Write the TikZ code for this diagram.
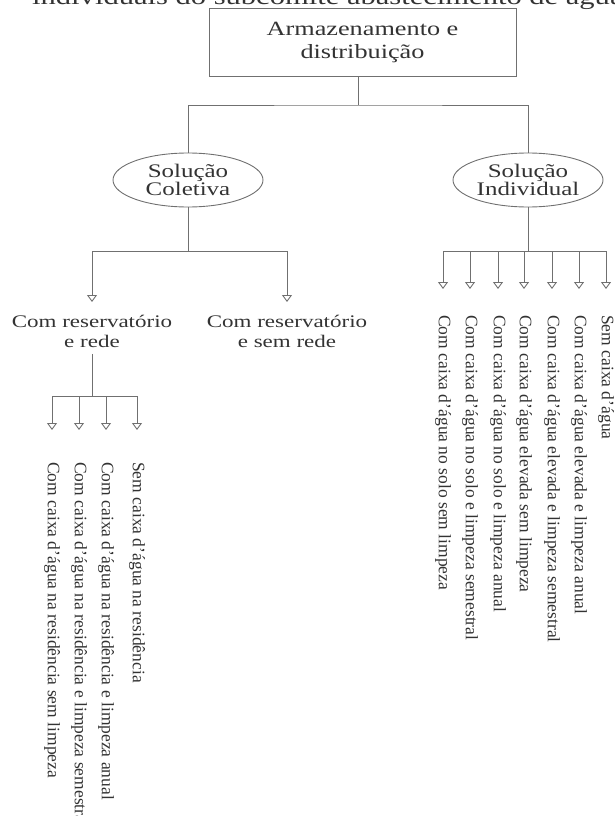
\documentclass[tikz,border=0pt]{standalone}
\usepackage{fontspec}
\setmainfont{Liberation Serif}[FakeStretch=1.3]
\newfontfamily\rotfont{Liberation Serif}
\usetikzlibrary{shapes.geometric}
\usetikzlibrary{arrows.meta}

\definecolor{linegray}{HTML}{707070}
\definecolor{inkgray}{HTML}{333333}

\tikzset{
    conn/.style={draw=linegray, line width=0.9pt},
    arr/.style={conn, -{Triangle[open, width=10pt, length=7pt]}},
    boxnode/.style={draw=linegray, line width=0.9pt, minimum width=307pt, minimum height=68pt, align=center, text=inkgray, font=\fontsize{20.2}{23}\selectfont},
    ellnode/.style={ellipse, draw=linegray, line width=0.9pt, minimum width=150pt, minimum height=54pt, inner sep=0pt, align=center, text=inkgray, font=\fontsize{19.2}{18.5}\selectfont},
    midnode/.style={anchor=north, inner xsep=0pt, inner ysep=13pt, align=center, text=inkgray, font=\fontsize{17.7}{20}\selectfont},
    rotnode/.style={rotate=-90, anchor=west, inner ysep=0pt, text=inkgray, font=\rotfont\fontsize{17.5}{20}\selectfont}
}

\begin{document}
\begin{tikzpicture}[x=1pt, y=-1pt]
    \useasboundingbox (0,0) rectangle (614,816);
    \node[anchor=base west, inner sep=0pt, text=inkgray, font=\fontsize{23.5}{26}\selectfont] (caption) at (32,4.5) {individuais do subcomitê abastecimento de água};
    \node[boxnode] (armaz) at (362.5,42) {Armazenamento e\\distribuição};
    \node[ellnode] (colet) at (188,180) {Solução\\Coletiva};
    \node[ellnode] (indiv) at (528,180) {Solução\\Individual};
    \coordinate (jtop) at (358,105);
    \coordinate (jcol) at (188,251);
    \coordinate (jind) at (528,251);
    \node[midnode] (comrede) at (92,302) {Com reservatório\\e rede};
    \node[midnode] (semrede) at (287,302) {Com reservatório\\e sem rede};
    \coordinate (jrede) at (92,396);
    % coletiva, com rede
    \node[rotnode, inner xsep=16pt] (res4) at (52,446) {Com caixa d’água na residência sem limpeza};
    \node[rotnode, inner xsep=16pt] (res3) at (79,446) {Com caixa d’água na residência e limpeza semestral};
    \node[rotnode, inner xsep=16pt] (res2) at (106,446) {Com caixa d’água na residência e limpeza anual};
    \node[rotnode, inner xsep=16pt] (res1) at (137,446) {Sem caixa d’água na residência};
    % individual
    \node[rotnode, inner xsep=13pt] (ind7) at (443,302) {Com caixa d’água no solo sem limpeza};
    \node[rotnode, inner xsep=13pt] (ind6) at (470,302) {Com caixa d’água no solo e limpeza semestral};
    \node[rotnode, inner xsep=13pt] (ind5) at (498,302) {Com caixa d’água no solo e limpeza anual};
    \node[rotnode, inner xsep=13pt] (ind4) at (524,302) {Com caixa d’água elevada sem limpeza};
    \node[rotnode, inner xsep=13pt] (ind3) at (552,302) {Com caixa d’água elevada e limpeza semestral};
    \node[rotnode, inner xsep=13pt] (ind2) at (579,302) {Com caixa d’água elevada e limpeza anual};
    \node[rotnode, inner xsep=13pt] (ind1) at (606,302) {Sem caixa d’água};

    \draw[conn] (armaz.south -| jtop) -- (jtop);
    \draw[conn] (colet.north) |- (jtop) -| (indiv.north);
    \draw[conn] (colet.south) -- (jcol);
    \draw[conn] (indiv.south) -- (jind);
    \draw[conn] (comrede.north |- jcol) -- (semrede.north |- jcol);
    \draw[arr] (comrede.north |- jcol) -- (comrede.north);
    \draw[arr] (semrede.north |- jcol) -- (semrede.north);
    \draw[conn] ([yshift=7pt]comrede.south) -- (jrede);
    \draw[conn] (res4.west |- jrede) -- (res1.west |- jrede);
    \draw[arr] (res4.west |- jrede) -- ([yshift=16pt]res4.west);
    \draw[arr] (res3.west |- jrede) -- ([yshift=16pt]res3.west);
    \draw[arr] (res2.west |- jrede) -- ([yshift=16pt]res2.west);
    \draw[arr] (res1.west |- jrede) -- ([yshift=16pt]res1.west);
    \draw[conn] (ind7.west |- jind) -- (ind1.west |- jind);
    \draw[arr] (ind7.west |- jind) -- ([yshift=13pt]ind7.west);
    \draw[arr] (ind6.west |- jind) -- ([yshift=13pt]ind6.west);
    \draw[arr] (ind5.west |- jind) -- ([yshift=13pt]ind5.west);
    \draw[arr] (ind4.west |- jind) -- ([yshift=13pt]ind4.west);
    \draw[arr] (ind3.west |- jind) -- ([yshift=13pt]ind3.west);
    \draw[arr] (ind2.west |- jind) -- ([yshift=13pt]ind2.west);
    \draw[arr] (ind1.west |- jind) -- ([yshift=13pt]ind1.west);
\end{tikzpicture}
\end{document}
